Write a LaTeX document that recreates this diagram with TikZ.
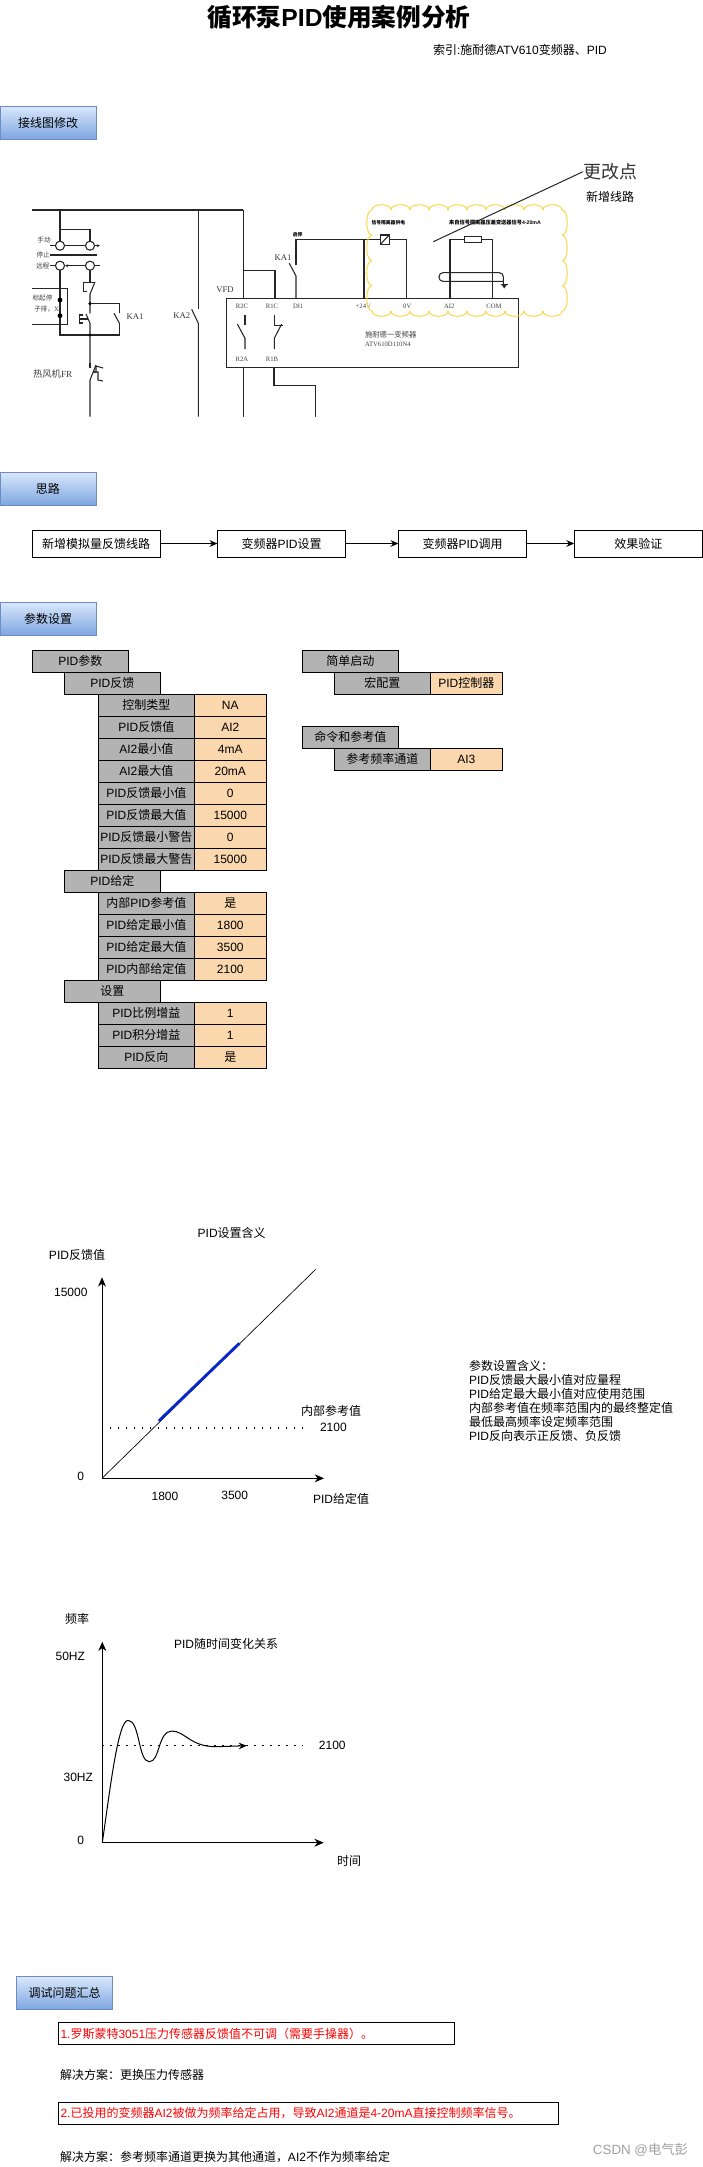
\documentclass[tikz,border=0pt]{standalone}
\usepackage{fontspec}
\setmainfont{Liberation Sans}
\newfontfamily\latinfont{Liberation Sans}
\newfontfamily\serfont{Liberation Serif}
\newfontfamily\cjkfont{Noto Sans CJK SC}
\usetikzlibrary{positioning, arrows.meta}
% Chinese characters take the CJK family, everything else stays Latin
\XeTeXinterchartokenstate=1
\newXeTeXintercharclass\cjkclass
\newcount\cjkpos
\newcommand{\markrange}[2]{\cjkpos=#1 \loop\XeTeXcharclass\cjkpos=\cjkclass \ifnum\cjkpos<#2 \advance\cjkpos by 1 \repeat}
\markrange{"3000}{"30FF}
\markrange{"4E00}{"9FFF}
\markrange{"FF00}{"FFEF}
\XeTeXinterchartoks 0 \cjkclass={\cjkfont}
\XeTeXinterchartoks 4095 \cjkclass={\cjkfont}
\XeTeXinterchartoks \cjkclass 0={\latinfont}
\XeTeXinterchartoks \cjkclass 4095={\latinfont}
\definecolor{secTop}{HTML}{DAE8FC}
\definecolor{secBot}{HTML}{7EA6E0}
\definecolor{secLine}{HTML}{6C8EBF}
\definecolor{cellGray}{HTML}{B3B3B3}
\definecolor{cellOrange}{HTML}{FAD7AC}
\definecolor{cloudLine}{HTML}{F7D84A}
\definecolor{setBlue}{HTML}{0A28C8}

\begin{document}
\begin{tikzpicture}[
                  x=0.75pt, y=-0.75pt,
                  every node/.append style={inner sep=0pt, outer sep=0pt, font=\fontsize{9}{10.5}\selectfont},
                  section/.style={draw=secLine, top color=secTop, bottom color=secBot,
                              minimum width=72pt, minimum height=24.75pt, anchor=north west},
                  flowbox/.style={draw, line width=0.75pt, minimum width=96pt, minimum height=20.25pt},
                  headbox/.style={draw, line width=0.75pt, fill=cellGray, minimum width=72pt, minimum height=16.5pt},
                  labelbox/.style={headbox},
                  valbox/.style={draw, line width=0.75pt, fill=cellOrange, minimum width=54pt, minimum height=16.5pt},
                  issue/.style={draw, line width=0.75pt, text=red, anchor=west, minimum height=16.5pt},
                  arr/.style={-{Stealth[length=6pt, width=5pt]}, line width=0.75pt},
                  axis/.style={-{Stealth[length=7pt, width=6pt]}, line width=0.75pt},
                  dots/.style={line width=0.9pt, dash pattern=on 0.9pt off 5.1pt},
                  wire/.style={draw=black!85, line width=0.8pt},
                  puff/.style={cloudLine, line width=0.75pt},
                  serif/.style={font=\serfont\fontsize{5}{6}\selectfont, text=black!75},
                  serifbig/.style={font=\serfont\fontsize{6.5}{8}\selectfont, text=black!80},
                  tiny/.style={font=\fontsize{3.6}{4.5}\bfseries\selectfont},
                  node distance=0pt,
            ]
            \useasboundingbox (0,0) rectangle (703,2167);

            % Title
            \node[font=\fontsize{18.5}{22}\bfseries\selectfont] (title) at (339,17) {循环泵PID使用案例分析};
            \node[anchor=west] (index) at (433,50) {索引:施耐德ATV610变频器、PID};

            % Section: wiring
            \node[section] (secwire) at (0,106) {接线图修改};

            % Wiring drawing
            \draw[wire] (32,210) -- (243.3,210);
            \draw[wire] (60,210) -- (60,241.2);
            \draw[wire] (60,229.3) -- (90,229.3) -- (90,241.2);
            \draw[wire] (60,245.7) circle (3.4pt);
            \draw[wire] (90,245.7) circle (3.4pt);
            \draw[wire] (50,245.7) -- (55.5,245.7);
            \draw[wire] (64.5,245.7) -- (85.5,245.7);
            \draw[wire, -{Stealth[length=2.5pt, width=2.2pt]}] (94.5,245.7) -- (100,245.7);
            \draw[wire, line width=1pt] (50,255) -- (97.3,255);
            \draw[wire] (60,265.7) circle (3.4pt);
            \draw[wire] (90,265.7) circle (3.4pt);
            \draw[wire] (50,265.7) -- (55.5,265.7);
            \draw[wire, -{Stealth[length=2.5pt, width=2.2pt]}] (85.5,265.7) -- (65,265.7);
            \draw[wire] (94.5,265.7) -- (100,265.7);
            \node[serif] (manual) at (44,240) {手动};
            \node[serif] (halt) at (43.3,254.7) {停止};
            \node[serif] (remote) at (42.7,266) {远程};
            % remote start box
            \draw[wire] (32,288.7) -- (67.3,288.7) -- (67.3,324.7) -- (32,324.7);
            \node[serif, anchor=west] (boxa) at (32.5,297.7) {标起停};
            \node[serif, anchor=west] (boxb) at (34,308.7) {子排，{\serfont X}};
            \draw[wire] (60,270.2) -- (60,335) -- (119.3,335) -- (119.3,323);
            \fill (60,300) circle (1.8pt);
            \fill (60,315.7) circle (1.8pt);
            \draw[wire] (119.3,323) -- (114,313.3);
            \draw[wire] (119.3,313.3) -- (119.3,303.7) -- (90,303.7);
            \node[serifbig] (ka1a) at (135,316.7) {KA1};
            % stop and start buttons
            \draw[wire] (90,270.2) -- (90,281.7);
            \draw[wire] (95,282) -- (90,294) -- (90,313.3);
            \draw[wire] (83.3,291.7) -- (87,291.7);
            \draw[wire] (87,282.7) -- (83.3,282.7) -- (83.3,291.7);
            \draw[wire] (83.3,282.7) -- (95,282.7);
            \draw[wire] (86,314) -- (90,323.3) -- (90,363);
            \draw[wire] (83.3,315) -- (79.3,315) -- (79.3,323) -- (83.3,323);
            \draw[wire] (79.3,319) -- (87.7,319);
            \fill (90,303.7) circle (1.3pt);
            \fill (90,335) circle (1.3pt);
            % overload contact
            \node[font=\fontsize{7}{9}\selectfont, text=black!75, anchor=west] (fr) at (33,374.3) {热风机{\serfont FR}};
            \draw[wire] (90,363) -- (90,368);
            \draw[wire] (96,365) -- (90,380) -- (90,416.7);
            \draw[wire] (93,372) -- (96,372) -- (96,366) -- (103,368);
            \draw[wire] (93,372) -- (98,372) -- (98,380) -- (103,381);
            % KA2 branch
            \draw[wire] (198.3,210) -- (198.3,309);
            \draw[wire] (191.7,309.3) -- (198.3,323.3) -- (198.3,416.7);
            \node[serifbig] (ka2) at (181.7,315.7) {KA2};
            % VFD box
            \node[draw=black!85, line width=0.8pt, minimum width=219pt, minimum height=51.7pt, anchor=north west] (vfdbox) at (226.7,298.3) {};
            \node[serifbig] (vfd) at (225,290) {VFD};
            \draw[wire] (243.3,210) -- (243.3,298.3);
            \draw[wire] (243.3,270.7) -- (275,270.7) -- (275,298.3);
            \draw[wire] (296,298.3) -- (296,276) -- (289.3,263.3);
            \draw[wire] (296,265) -- (296,239.3) -- (380.3,239.3);
            \draw[wire] (389.3,239.3) -- (406.7,239.3) -- (406.7,298.3);
            \draw[wire] (364,239.3) -- (364,298.3);
            \node[serifbig] (ka1b) at (283,257.3) {KA1};
            \node[tiny] (startstop) at (297.7,234.3) {启停};
            \foreach \xpos/\name in {242/R2C, 272/R1C, 298.3/DI1, 363.3/+24V, 407.3/0V, 449.3/AI2, 494/COM}
                  \node[serif] at (\xpos,306.7) {\name};
            \node[serif] (r2a) at (242,359.3) {R2A};
            \node[serif] (r1b) at (272,359.3) {R1B};
            \draw[wire] (245,315) -- (245,325);
            \draw[wire] (237.3,324) -- (245,338.3) -- (245,349);
            \draw[wire] (274.3,315) -- (274.3,325.7) -- (283.3,325.7);
            \draw[wire] (281.7,324) -- (274.3,338.3) -- (274.3,349);
            \node[serif, anchor=west, font=\fontsize{5.5}{6.5}\selectfont] (vfdname) at (365,334.3) {施耐德一变频器};
            \node[serif, anchor=west] (vfdtype) at (365,344) {ATV610D110N4};
            \draw[wire] (243.3,367.3) -- (243.3,416.7);
            \draw[wire] (274,367.3) -- (274,385.7) -- (315.7,385.7) -- (315.7,416.7);
            % new circuit
            \draw[wire, line width=1pt] (380.3,235) rectangle (389.3,244.3);
            \draw[wire] (381,243.6) -- (388.6,235.7);
            \node[tiny] (isopower) at (388.3,222.7) {信号隔离器供电};
            \node[tiny, font=\fontsize{3.9}{4.5}\bfseries\selectfont] (isosignal) at (495,222.7) {来自信号隔离器压差变送器信号4-20mA};
            \draw[wire] (450,298.3) -- (450,239.3) -- (464.3,239.3);
            \draw[wire] (481.7,239.3) -- (492.3,239.3) -- (492.3,298.3);
            \draw[wire] (464.3,236.7) rectangle (481.7,242.3);
            \draw[wire, rounded corners=3pt] (503.3,284) -- (503.3,272.7) -- (439,272.7) -- (439,281.3) -- (503.3,281.3);
            \draw[wire] (500.7,284.3) -- (507.7,284.3);
            \fill[black!85] (501.8,285) -- (506.6,285) -- (504.2,288.5) -- cycle;
            % cloud round the new circuit
            \foreach \xpos in {372,391,...,543} {
                  \draw[puff] (\xpos,210) .. controls (\xpos,203) and (\xpos+19,203) .. (\xpos+19,210);
                  \draw[puff] (\xpos,311) .. controls (\xpos,318) and (\xpos+19,318) .. (\xpos+19,311);
            }
            \foreach \ypos in {210,235.25,260.5,285.75} {
                  \draw[puff] (372,\ypos) .. controls (365,\ypos) and (365,\ypos+25.25) .. (372,\ypos+25.25);
                  \draw[puff] (562,\ypos) .. controls (569,\ypos) and (569,\ypos+25.25) .. (562,\ypos+25.25);
            }
            \node[font=\serfont\fontsize{13.5}{16}\selectfont, text=black!80] (change) at (610,171.7) {更改点};
            \node (newline) at (610,196.7) {新增线路};
            \draw[wire, line width=0.75pt] (change.west) -- (433.3,241.7);

            % Section: idea
            \node[section] (secidea) at (0,472) {思路};
            \node[flowbox, anchor=north west] (idea1) at (32,530) {新增模拟量反馈线路};
            \node[flowbox, anchor=north west] (idea2) at (217.5,530) {变频器PID设置};
            \node[flowbox, anchor=north west] (idea3) at (398.5,530) {变频器PID调用};
            \node[flowbox, anchor=north west] (idea4) at (574.3,530) {效果验证};
            \draw[arr] (idea1) -- (idea2);
            \draw[arr] (idea2) -- (idea3);
            \draw[arr] (idea3) -- (idea4);

            % Section: parameters
            \node[section] (secparam) at (0,602) {参数设置};
            \node[headbox, anchor=north west] (pidparam) at (32.3,650) {PID参数};
            \node[headbox, anchor=north west] (pidfb) at (64.3,672) {PID反馈};
            \node[labelbox, anchor=north west] (ctrltype) at (98.3,694) {控制类型};
            \node[valbox, right=of ctrltype] (ctrltypev) {NA};
            \node[labelbox, below=of ctrltype] (fbval) {PID反馈值};
            \node[valbox, right=of fbval] (fbvalv) {AI2};
            \node[labelbox, below=of fbval] (aimin) {AI2最小值};
            \node[valbox, right=of aimin] (aiminv) {4mA};
            \node[labelbox, below=of aimin] (aimax) {AI2最大值};
            \node[valbox, right=of aimax] (aimaxv) {20mA};
            \node[labelbox, below=of aimax] (fbmin) {PID反馈最小值};
            \node[valbox, right=of fbmin] (fbminv) {0};
            \node[labelbox, below=of fbmin] (fbmax) {PID反馈最大值};
            \node[valbox, right=of fbmax] (fbmaxv) {15000};
            \node[labelbox, below=of fbmax] (warnmin) {PID反馈最小警告};
            \node[valbox, right=of warnmin] (warnminv) {0};
            \node[labelbox, below=of warnmin] (warnmax) {PID反馈最大警告};
            \node[valbox, right=of warnmax] (warnmaxv) {15000};

            \node[headbox, anchor=north west] (pidset) at (64.3,870) {PID给定};
            \node[labelbox, anchor=north west] (intref) at (98.3,892) {内部PID参考值};
            \node[valbox, right=of intref] (intrefv) {是};
            \node[labelbox, below=of intref] (setmin) {PID给定最小值};
            \node[valbox, right=of setmin] (setminv) {1800};
            \node[labelbox, below=of setmin] (setmax) {PID给定最大值};
            \node[valbox, right=of setmax] (setmaxv) {3500};
            \node[labelbox, below=of setmax] (intset) {PID内部给定值};
            \node[valbox, right=of intset] (intsetv) {2100};

            \node[headbox, anchor=north west] (setting) at (64.3,980) {设置};
            \node[labelbox, anchor=north west] (pgain) at (98.3,1002) {PID比例增益};
            \node[valbox, right=of pgain] (pgainv) {1};
            \node[labelbox, below=of pgain] (igain) {PID积分增益};
            \node[valbox, right=of igain] (igainv) {1};
            \node[labelbox, below=of igain] (reverse) {PID反向};
            \node[valbox, right=of reverse] (reversev) {是};

            \node[headbox, anchor=north west] (quick) at (302.3,650) {简单启动};
            \node[labelbox, anchor=north west] (macro) at (334.3,672) {宏配置};
            \node[valbox, right=of macro] (macrov) {PID控制器};
            \node[headbox, anchor=north west] (cmdref) at (302.3,726) {命令和参考值};
            \node[labelbox, anchor=north west] (refchan) at (334.3,748) {参考频率通道};
            \node[valbox, right=of refchan] (refchanv) {AI3};

            % PID setting plot
            \coordinate (o1) at (102,1478.3);
            \node (plota) at (231.7,1232.7) {PID设置含义};
            \node (yname) at (77,1255) {PID反馈值};
            \draw[axis] (o1) -- (102,1277.3);
            \draw[axis] (o1) -- (324,1478.3);
            \draw[line width=0.5pt] (o1) -- (316,1269);
            \draw[setBlue, line width=2.2pt] (158.8,1421) -- (239.4,1343.3);
            \draw[dots] (102,1428) -- (304.7,1428);
            \node (ya) at (70.8,1292.7) {15000};
            \node (yb) at (80.6,1476.7) {0};
            \node (intname) at (331,1410.7) {内部参考值};
            \node (inta) at (333.4,1427.7) {2100};
            \node (xa) at (165,1496.7) {1800};
            \node (xb) at (234.7,1495.7) {3500};
            \node (xname) at (341,1499.3) {PID给定值};
            \node[anchor=north west, align=left] (meaning) at (469,1360.5) {参数设置含义：\\PID反馈最大最小值对应量程\\PID给定最大最小值对应使用范围\\内部参考值在频率范围内的最终整定值\\最低最高频率设定频率范围\\PID反向表示正反馈、负反馈};

            % Time response plot
            \coordinate (o2) at (102.3,1842.7);
            \node (freq) at (77,1619.3) {频率};
            \node (plotb) at (226,1644) {PID随时间变化关系};
            \draw[axis] (o2) -- (102.3,1641.7);
            \draw[axis] (o2) -- (323.7,1842.7);
            \draw[dots] (102.3,1745.7) -- (303.3,1745.7);
            \draw[arr] (o2) .. controls (110,1790) and (118,1720.3) .. (128,1720.3)
                  .. controls (140,1720.3) and (138,1761.7) .. (149.3,1761.7)
                  .. controls (160,1761.7) and (158,1731) .. (171.7,1731)
                  .. controls (185,1731) and (190,1746.7) .. (216,1746.7)
                  -- (246.7,1745.7);
            \node (ha) at (70.3,1656.7) {50HZ};
            \node (hb) at (78.3,1777.7) {30HZ};
            \node (hc) at (80.7,1840.7) {0};
            \node (setline) at (332.3,1745.7) {2100};
            \node (timename) at (349,1860.7) {时间};

            % Section: debugging
            \node[section] (secdebug) at (16.6,1976.3) {调试问题汇总};
            \node[issue, minimum width=297.3pt, text width=294pt, align=left] (issuea) at (58.3,2033.5) {1.罗斯蒙特3051压力传感器反馈值不可调（需要手操器）。};
            \node[anchor=west] (solvea) at (60,2075) {解决方案：更换压力传感器};
            \node[issue, minimum width=375.3pt, text width=372pt, align=left] (issueb) at (58.3,2113.5) {2.已投用的变频器AI2被做为频率给定占用，导致AI2通道是4-20mA直接控制频率信号。};
            \node[anchor=west] (solveb) at (60,2156.7) {解决方案：参考频率通道更换为其他通道，AI2不作为频率给定};
            \node[anchor=east, text=gray!75, font=\fontsize{10}{12}\selectfont] (mark) at (688,2150) {CSDN @电气彭};
      \end{tikzpicture}
\end{document}
